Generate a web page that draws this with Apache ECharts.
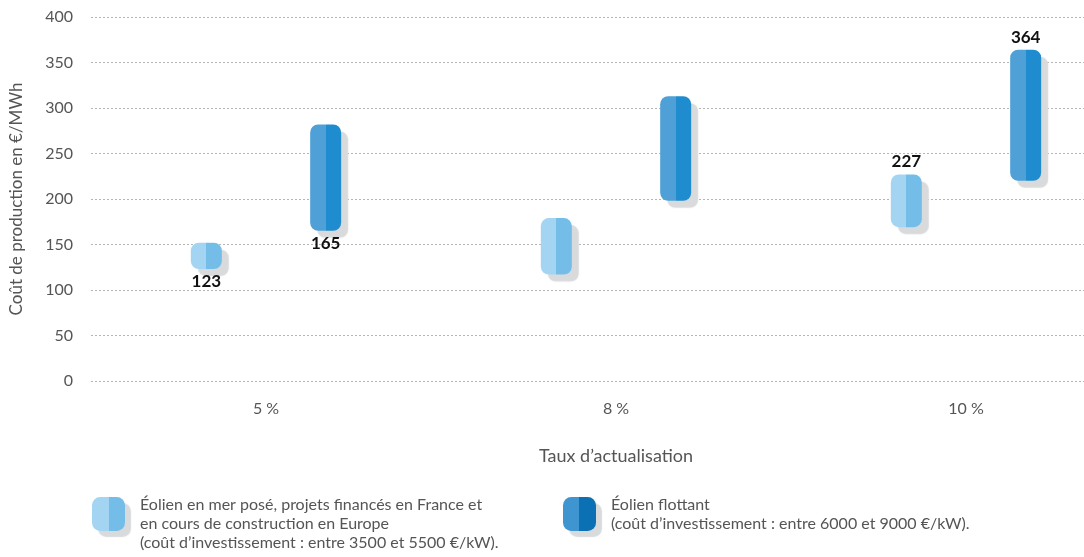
<!DOCTYPE html>
<html>
<head>
<meta charset="utf-8">
<script src="https://cdn.jsdelivr.net/npm/echarts@6/dist/echarts.min.js"></script>
<style>
  html, body { margin: 0; padding: 0; background: #fff; }
  #chart { width: 1084px; height: 557px; }
</style>
</head>
<body>
<div id="chart"></div>
<script>
// Discount-rate categories
const categories = ['5 %', '8 %', '10 %'];

// Fixed-bottom offshore wind: production cost range (€/MWh)
const poseLow  = [123, 117, 169];
const poseHigh = [152, 179, 227];

// Floating offshore wind: production cost range (€/MWh)
const flotLow  = [165, 198, 220];
const flotHigh = [282, 313, 364];

// Which range end carries a value label: 'low', 'high' or null
const poseLabelEnd = ['low', null, 'high'];
const flotLabelEnd = ['low', null, 'high'];

// Y axis ticks
const yMin = 0, yMax = 400, yStep = 50;

const poseName = 'Éolien en mer posé, projets financés en France et\nen cours de construction en Europe\n(coût d’investissement : entre 3500 et 5500 €/kW).';
const flotName = 'Éolien flottant\n(coût d’investissement : entre 6000 et 9000 €/kW).';

const FONT = 'Lato, "Noto Sans", sans-serif';

function twoTone(left, right) {
  return new echarts.graphic.LinearGradient(0, 0, 1, 0, [
    { offset: 0, color: left },
    { offset: 0.5, color: left },
    { offset: 0.5, color: right },
    { offset: 1, color: right }
  ]);
}

const poseColor = twoTone('#a3d4f2', '#74bde9');
const flotColor = twoTone('#4fa0d6', '#1f8ccf');
const flotLegendColor = twoTone('#3f95cf', '#0b71b4');

function rangeData(low, high, ends) {
  return low.map((lo, i) => {
    const item = { value: high[i] - lo };
    if (ends[i]) {
      item.label = {
        show: true,
        position: ends[i] === 'high' ? 'top' : 'bottom',
        distance: 4,
        formatter: String(ends[i] === 'high' ? high[i] : lo)
      };
    }
    return item;
  });
}

const barStyle = (color) => ({
  color: color,
  borderRadius: 8,
  shadowColor: '#d9dadc',
  shadowBlur: 1,
  shadowOffsetX: 7,
  shadowOffsetY: 7
});

const rangeLabel = {
  color: '#111',
  fontFamily: FONT,
  fontSize: 17,
  fontWeight: 'bold'
};

const legendText = { color: '#555', fontFamily: FONT, fontSize: 16, lineHeight: 19, padding: [0, 0, 0, 10] };
const legendIconStyle = { shadowColor: '#d9dadc', shadowBlur: 1, shadowOffsetX: 6, shadowOffsetY: 6 };

const chart = echarts.init(document.getElementById('chart'), null, { renderer: 'canvas' });

chart.setOption({
  animation: false,
  backgroundColor: '#fff',
  // the plot runs past the right edge so the dotted grid lines reach the border
  grid: { left: 91, top: 17, width: 1050, height: 364, outerBoundsMode: 'none', containLabel: false },
  xAxis: {
    type: 'category',
    data: categories,
    axisLine: { show: false },
    axisTick: { show: false },
    axisLabel: { color: '#555', fontFamily: FONT, fontSize: 16, margin: 20 },
    name: 'Taux d’actualisation',
    nameLocation: 'middle',
    nameGap: 66,
    nameTextStyle: { color: '#555', fontFamily: FONT, fontSize: 18 }
  },
  yAxis: {
    type: 'value',
    min: yMin,
    max: yMax,
    interval: yStep,
    axisLine: { show: false },
    axisTick: { show: false },
    axisLabel: { color: '#555', fontFamily: FONT, fontSize: 16, margin: 18 },
    splitLine: { lineStyle: { color: '#b5b5b5', type: [2, 2], width: 1 } },
    name: 'Coût de production en €/MWh',
    nameLocation: 'middle',
    nameGap: 66,
    nameTextStyle: { color: '#555', fontFamily: FONT, fontSize: 17 }
  },
  legend: [
    {
      data: [{ name: poseName }],
      left: 87,
      top: 471,
      orient: 'vertical',
      icon: 'roundRect',
      itemWidth: 33,
      itemHeight: 34,
      itemStyle: legendIconStyle,
      // leading blank line drops the three text lines so they start level with the icon top
      formatter: (name) => '\n' + name,
      textStyle: legendText,
      selectedMode: false
    },
    {
      data: [{ name: flotName, itemStyle: { color: flotLegendColor } }],
      left: 558,
      top: 490,
      orient: 'vertical',
      icon: 'roundRect',
      itemWidth: 33,
      itemHeight: 34,
      itemStyle: legendIconStyle,
      textStyle: legendText,
      selectedMode: false
    }
  ],
  series: [
    {
      name: 'poseBase',
      type: 'bar',
      stack: 'pose',
      barWidth: 31,
      barGap: '285%',
      itemStyle: { color: 'transparent' },
      emphasis: { disabled: true },
      data: poseLow
    },
    {
      name: poseName,
      type: 'bar',
      stack: 'pose',
      barWidth: 31,
      itemStyle: barStyle(poseColor),
      label: rangeLabel,
      data: rangeData(poseLow, poseHigh, poseLabelEnd)
    },
    {
      name: 'flotBase',
      type: 'bar',
      stack: 'flot',
      barWidth: 31,
      barGap: '285%',
      itemStyle: { color: 'transparent' },
      emphasis: { disabled: true },
      data: flotLow
    },
    {
      name: flotName,
      type: 'bar',
      stack: 'flot',
      barWidth: 31,
      itemStyle: barStyle(flotColor),
      label: rangeLabel,
      data: rangeData(flotLow, flotHigh, flotLabelEnd)
    }
  ]
});
</script>
</body>
</html>
